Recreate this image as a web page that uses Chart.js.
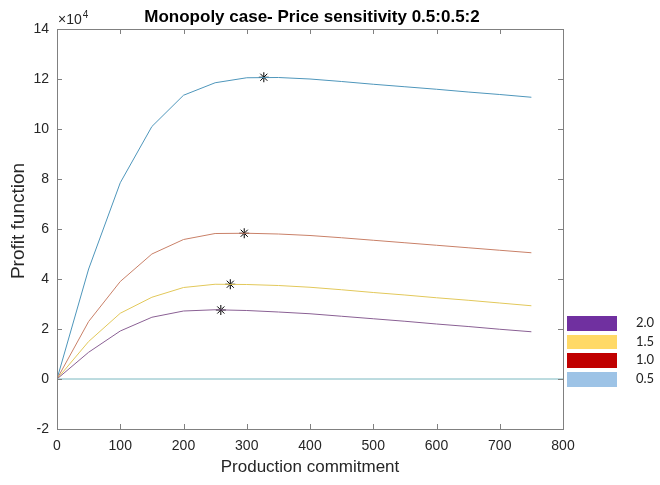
<!DOCTYPE html>
<html>
<head>
<meta charset="utf-8">
<script src="https://cdn.jsdelivr.net/npm/chart.js@4"></script>
<style>
  body { margin: 0; background: #fff; }
  #wrap { position: relative; width: 660px; height: 485px; }
  #legend { position: absolute; left: 567px; top: 316px; font-family: Lato, "Open Sans", sans-serif; font-size: 13px; color: #222; }
  .row { position: relative; height: 18.7px; }
  .box { position: absolute; left: 0; top: 0; width: 50px; height: 14.5px; }
  .lbl { position: absolute; left: 69px; top: -2px; }
</style>
</head>
<body>
<div id="wrap">
  <canvas id="myChart" width="660" height="485"></canvas>
  <div id="legend"></div>
</div>
<script>
// profit values in units of 10^4
const production = [0, 50, 100, 150, 200, 250, 300, 350, 400, 450, 500, 550, 600, 650, 700, 750];
const profit05 = [0, 4.4, 7.85, 10.1, 11.35, 11.85, 12.05, 12.06, 12.0, 11.9, 11.79, 11.69, 11.59, 11.48, 11.38, 11.27];
const profit10 = [0, 2.3, 3.9, 5.0, 5.58, 5.82, 5.83, 5.8, 5.74, 5.65, 5.55, 5.45, 5.35, 5.25, 5.15, 5.05];
const profit15 = [0, 1.5, 2.63, 3.27, 3.66, 3.79, 3.78, 3.74, 3.67, 3.57, 3.46, 3.36, 3.25, 3.15, 3.04, 2.93];
const profit20 = [0, 1.07, 1.92, 2.47, 2.72, 2.77, 2.74, 2.68, 2.61, 2.51, 2.41, 2.31, 2.2, 2.1, 1.99, 1.89];
const optimumX = [327, 296, 274, 259];
const optimumY = [12.07, 5.83, 3.79, 2.76];
const zeroLine = [0, 0];
const zeroLineX = [0, 800];
const xTicks = [0, 100, 200, 300, 400, 500, 600, 700, 800];
const yTicks = [-2, 0, 2, 4, 6, 8, 10, 12, 14];
const legendLabels = ['2.0', '1.5', '1.0', '0.5'];
const legendColors = ['#7030A0', '#FFD966', '#C00000', '#9DC3E6'];

const axisColor = '#808080';
const textColor = '#262626';
const fontFamily = '"Liberation Sans", Arial, sans-serif';

function pts(xs, ys) {
    return xs.map((x, i) => ({ x: x, y: ys[i] }));
}

// legend is a pasted block next to the axes, not tied to line colours
const legend = document.getElementById('legend');
legendLabels.forEach((l, i) => {
    const row = document.createElement('div');
    row.className = 'row';
    row.innerHTML = `<div class="box" style="background:${legendColors[i]}"></div><div class="lbl">${l}</div>`;
    legend.appendChild(row);
});

// box around the axes with inward ticks, titles and exponent label
const matlabAxes = {
    id: 'matlabAxes',
    afterDraw(chart) {
        const ctx = chart.ctx;
        const a = chart.chartArea;
        const xs = chart.scales.x, ys = chart.scales.y;
        const tl = 5;
        ctx.save();
        ctx.strokeStyle = axisColor;
        ctx.lineWidth = 1;
        ctx.strokeRect(Math.round(a.left) + 0.5, Math.round(a.top) + 0.5, Math.round(a.right - a.left), Math.round(a.bottom - a.top));
        ctx.beginPath();
        xTicks.forEach(v => {
            const px = Math.round(xs.getPixelForValue(v)) + 0.5;
            ctx.moveTo(px, a.bottom); ctx.lineTo(px, a.bottom - tl);
            ctx.moveTo(px, a.top); ctx.lineTo(px, a.top + tl);
        });
        yTicks.forEach(v => {
            const py = Math.round(ys.getPixelForValue(v)) + 0.5;
            ctx.moveTo(a.left, py); ctx.lineTo(a.left + tl, py);
            ctx.moveTo(a.right, py); ctx.lineTo(a.right - tl, py);
        });
        ctx.stroke();

        ctx.fillStyle = '#000';
        ctx.font = 'bold 17px ' + fontFamily;
        ctx.textAlign = 'center';
        ctx.textBaseline = 'middle';
        ctx.fillText('Monopoly case- Price sensitivity 0.5:0.5:2', 312, 17);

        // y axis label
        ctx.save();
        ctx.translate(19, 221);
        ctx.rotate(-Math.PI / 2);
        ctx.fillStyle = textColor;
        ctx.font = '19px ' + fontFamily;
        ctx.fillText('Profit function', 0, 0);
        ctx.restore();

        ctx.fillStyle = textColor;
        ctx.textAlign = 'left';
        ctx.textBaseline = 'alphabetic';
        ctx.font = '14px ' + fontFamily;
        ctx.fillText('\u00d710', a.left + 1, 24);
        const w = ctx.measureText('\u00d710').width;
        ctx.font = '10px ' + fontFamily;
        ctx.fillText('4', a.left + 1 + w + 1, 18);
        ctx.restore();
    }
};

const lineStyle = { borderWidth: 1, pointRadius: 0, tension: 0, fill: false };

new Chart(document.getElementById('myChart'), {
    type: 'line',
    data: {
        datasets: [
            { data: pts(zeroLineX, zeroLine), borderColor: '#7ab8c0', ...lineStyle },
            { data: pts(production, profit20), borderColor: '#8a6094', ...lineStyle },
            { data: pts(production, profit15), borderColor: '#e2c85a', ...lineStyle },
            { data: pts(production, profit10), borderColor: '#c98068', ...lineStyle },
            { data: pts(production, profit05), borderColor: '#4e96bb', ...lineStyle },
            {
                type: 'scatter',
                data: pts(optimumX, optimumY),
                pointStyle: 'star',
                pointRadius: 5,
                borderColor: '#000',
                borderWidth: 1,
                showLine: false
            }
        ]
    },
    options: {
        responsive: false,
        animation: false,
        layout: { padding: { top: 29, right: 97, left: 0, bottom: 0 } },
        plugins: { legend: { display: false }, tooltip: { enabled: false } },
        scales: {
            x: {
                type: 'linear',
                min: 0,
                max: 800,
                grid: { display: false, drawTicks: false },
                border: { display: false },
                ticks: {
                    stepSize: 100,
                    padding: 9,
                    color: textColor,
                    font: { family: fontFamily, size: 14 }
                },
                title: {
                    display: true,
                    text: 'Production commitment',
                    color: textColor,
                    padding: { top: 0, bottom: 7 },
                    font: { family: fontFamily, size: 17 }
                },
                afterFit(scale) { scale.height = 56; }
            },
            y: {
                min: -2,
                max: 14,
                grid: { display: false, drawTicks: false },
                border: { display: false },
                ticks: {
                    stepSize: 2,
                    padding: 8,
                    color: textColor,
                    font: { family: fontFamily, size: 14 }
                },
                afterFit(scale) { scale.width = 57; }
            }
        }
    },
    plugins: [matlabAxes]
});
</script>
</body>
</html>
